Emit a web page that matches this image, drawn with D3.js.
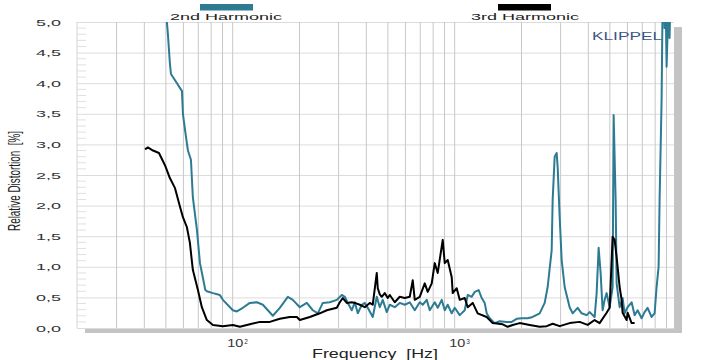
<!DOCTYPE html>
<html><head><meta charset="utf-8">
<script src="https://cdn.jsdelivr.net/npm/d3@7"></script>
<style>body{margin:0;background:#fff;overflow:hidden}text{font-family:"Liberation Sans",Arial,sans-serif;white-space:pre}</style>
</head><body><svg id="c" width="710" height="360"></svg>
<script>
// ---- data ----
const yTickValues = [0,0.5,1,1.5,2,2.5,3,3.5,4,4.5,5];
const yTickLabels = ["0,0","0,5","1,0","1,5","2,0","2,5","3,0","3,5","4,0","4,5","5,0"];
const xGridValues = [30,40,50,60,70,80,90,100,200,300,400,500,600,700,800,900,1000,2000,3000,4000,5000,6000,7000,8000,9000];
const xTickValues = [100,1000];
const xTickBases = ["10","10"];
const xTickExps = ["2","3"];
const seriesNames = ["2nd Harmonic","3rd Harmonic"];
const seriesColors = ["#2c7b93","#000000"];

// [frequency Hz, relative distortion %]
const secondHarmonic = [[50.3,5.3],[50.8,5.0],[51.3,4.82],[52.4,4.33],[53.0,4.15],[56.4,4.0],[59.4,3.87],[60.0,3.5],[61.3,3.24],[63.2,2.9],[65.2,2.75],[66.5,2.14],[69.4,1.6],[71.6,1.06],[75.7,0.62],[76.9,0.6],[81.9,0.57],[88.0,0.54],[90.8,0.46],[100.7,0.29],[105,0.27],[111.7,0.33],[120.1,0.41],[129.2,0.42],[137.5,0.38],[152.5,0.2],[163.9,0.33],[178.1,0.51],[187.6,0.46],[201.7,0.34],[216.9,0.41],[230.8,0.29],[243.1,0.24],[256,0.41],[275.2,0.42],[296,0.46],[311.8,0.54],[321.6,0.51],[331.7,0.41],[345.8,0.29],[356.7,0.42],[368,0.24],[383.6,0.38],[395.7,0.41],[408.1,0.33],[429.8,0.18],[448,0.51],[462.2,0.34],[476.7,0.46],[497,0.26],[512.7,0.38],[540,0.34],[568.7,0.41],[599,0.38],[630.8,0.42],[664.4,0.29],[699.7,0.42],[721.8,0.38],[752.3,0.46],[776.1,0.29],[817.4,0.42],[843.2,0.33],[878.9,0.46],[906.7,0.29],[935.2,0.38],[974.8,0.24],[1005.7,0.33],[1059,0.21],[1115.6,0.29],[1150.7,0.54],[1199.5,0.51],[1237.4,0.59],[1289.4,0.62],[1330.2,0.49],[1372.3,0.41],[1401,0.24],[1445.3,0.16],[1522.2,0.08],[1603.1,0.11],[1724,0.1],[1815.7,0.1],[1912,0.15],[2013.7,0.16],[2143,0.16],[2257,0.18],[2427,0.24],[2556.6,0.41],[2637,0.67],[2748.9,1.27],[2777,2.09],[2835.7,2.8],[2895,2.86],[2925,2.63],[2987,1.81],[3049,1.11],[3145,0.67],[3312,0.34],[3417,0.24],[3599,0.33],[3751,0.24],[3951,0.21],[4076,0.26],[4292,0.18],[4382,0.57],[4474,1.31],[4567,0.9],[4663,0.29],[4761,0.46],[4861,0.57],[5015,0.34],[5173,0.67],[5227,3.48],[5337,2.09],[5392,0.73],[5562,0.34],[5738,0.49],[5859,0.24],[6043,0.34],[6299,0.42],[6498,0.21],[6703,0.29],[6987,0.16],[7207,0.26],[7435,0.33],[7749,0.18],[7995,0.24],[8162,0.67],[8333,1.0],[8419,2.09],[8596,3.73],[8685,5.3],[8775,5.5],[8866,4.9],[8957,5.4],[9053,4.27],[9147,4.82],[9242,5.3],[9338,4.74],[9435,5.5]];

const thirdHarmonic = [[40.5,2.92],[41.7,2.95],[44.0,2.9],[46.8,2.86],[49.8,2.66],[52.4,2.45],[55.2,2.29],[58.2,1.98],[60.0,1.81],[62.5,1.65],[64.5,1.39],[66.5,0.95],[70.1,0.62],[73.0,0.34],[76.9,0.13],[81.9,0.05],[90.8,0.03],[100.7,0.05],[108.3,0.02],[120.1,0.06],[133.3,0.10],[147.8,0.10],[163.9,0.15],[181.9,0.18],[195.5,0.18],[201.7,0.13],[223.8,0.18],[248.2,0.24],[266.8,0.29],[296,0.33],[305.4,0.42],[315,0.49],[328.3,0.41],[345.8,0.42],[356.7,0.41],[375.7,0.38],[395.7,0.34],[416.7,0.41],[429.8,0.38],[448,0.9],[452.7,0.65],[462.2,0.55],[471.8,0.51],[486.8,0.57],[502.2,0.49],[512.7,0.54],[540,0.42],[568.7,0.51],[599,0.49],[630.8,0.51],[650.7,0.78],[664.4,0.46],[699.7,0.51],[736.9,0.73],[760.1,0.59],[792.3,0.73],[817.4,1.06],[843.2,0.9],[888,1.44],[906.7,1.06],[935.2,1.11],[974.8,0.83],[985,0.57],[1026.7,0.65],[1059,0.46],[1115.6,0.49],[1150.7,0.34],[1211.9,0.41],[1276,0.24],[1401,0.18],[1490.8,0.08],[1653.6,0.06],[1742,0.02],[1834.5,0.05],[1972,0.08],[2188,0.05],[2427,0.02],[2610,0.03],[2777,0.07],[2987,0.03],[3312,0.08],[3675,0.1],[3992,0.05],[4292,0.13],[4520,0.08],[4861,0.25],[5015,0.33],[5173,1.49],[5281,1.44],[5392,1.16],[5562,0.67],[5679,0.46],[5738,0.25],[5981,0.13],[6043,0.25],[6299,0.08],[6498,0.08]];

// ---- layout ----
const L = 77, R = 674, T = 22, B = 328;
const svg = d3.select("#c");
const x = d3.scaleLog().domain([20, 9776]).range([L, R]);
const y = d3.scaleLinear().domain([0, 5]).range([B, T]);

// shadow + plot background
svg.append("rect").attr("x", L + 8).attr("y", T + 5).attr("width", R - L).attr("height", B - T).attr("fill", "#c4c4c4");
svg.append("rect").attr("x", L).attr("y", T).attr("width", R - L).attr("height", B - T).attr("fill", "#fff");

// horizontal grid
const gy = svg.append("g").attr("transform", `translate(${L},0)`)
  .call(d3.axisLeft(y).tickValues(yTickValues).tickSize(-(R - L)).tickFormat(""));
gy.select(".domain").remove();
gy.selectAll("line").attr("stroke", "#dcdcdc");

// minor y ticks
svg.append("g").selectAll("line").data(y.ticks(50).filter(d => Math.round(d * 10) % 5 !== 0))
  .join("line").attr("x1", L).attr("x2", L + 9).attr("y1", d => y(d)).attr("y2", d => y(d))
  .attr("stroke", "#e0e0e0");

// vertical grid
const gx = svg.append("g").attr("transform", `translate(0,${B})`)
  .call(d3.axisBottom(x).tickValues(xGridValues).tickSize(-(B - T)).tickFormat(""));
gx.select(".domain").remove();
gx.selectAll("line").attr("stroke", "#c8c8c8");
svg.append("line").attr("x1", L).attr("x2", L).attr("y1", T).attr("y2", B).attr("stroke", "#d4d4d4");

// y tick labels
const ya = svg.append("g").attr("transform", `translate(${L},0)`)
  .call(d3.axisLeft(y).tickValues(yTickValues).tickSize(0).tickPadding(16).tickFormat((d, i) => yTickLabels[i]));
ya.select(".domain").remove();
ya.selectAll("text").attr("font-size", 9.5).attr("fill", "#333").attr("font-family", "Liberation Sans, Arial, sans-serif")
  .attr("textLength", 25).attr("lengthAdjust", "spacingAndGlyphs");

// x tick labels
const xt = svg.append("g").selectAll("text").data(xTickValues).join("text")
  .attr("x", d => x(d) - 5).attr("y", 347).attr("font-size", 10).attr("fill", "#333");
xt.append("tspan").text((d, i) => xTickBases[i]).attr("textLength", 16).attr("lengthAdjust", "spacingAndGlyphs");
xt.append("tspan").text((d, i) => xTickExps[i]).attr("font-size", 6.5).attr("dy", -3).attr("dx", 1);

// clip
svg.append("clipPath").attr("id", "clip").append("rect").attr("x", L).attr("y", T).attr("width", R - L).attr("height", B - T);

const line = d3.line().x(d => x(d[0])).y(d => y(d[1]));
const g = svg.append("g").attr("clip-path", "url(#clip)");
g.append("path").datum(secondHarmonic).attr("d", line).attr("fill", "none").attr("stroke", seriesColors[0]).attr("stroke-width", 2).attr("stroke-linejoin", "round");
g.append("path").datum(thirdHarmonic).attr("d", line).attr("fill", "none").attr("stroke", seriesColors[1]).attr("stroke-width", 2).attr("stroke-linejoin", "round");

// legend
const legX = [200, 498], legTextX = [170, 471], legTextW = [112, 108];
seriesNames.forEach((n, i) => {
  svg.append("rect").attr("x", legX[i]).attr("y", 4).attr("width", 53).attr("height", 6.5).attr("fill", seriesColors[i]);
  svg.append("text").attr("x", legTextX[i]).attr("y", 20).attr("font-size", 9.5).attr("fill", "#222")
    .attr("textLength", legTextW[i]).attr("lengthAdjust", "spacingAndGlyphs").text(n);
});

// KLIPPEL
svg.append("text").attr("x", 592).attr("y", 40).attr("font-size", 10).attr("fill", "#3b5587")
  .attr("textLength", 70).attr("lengthAdjust", "spacingAndGlyphs").text("KLIPPEL");

// axis titles
svg.append("text").attr("x", 312).attr("y", 358).attr("font-size", 12.5).attr("fill", "#222")
  .attr("textLength", 126).attr("lengthAdjust", "spacingAndGlyphs").text("Frequency  [Hz]");
svg.append("text").attr("transform", "translate(20,181) rotate(-90)").attr("text-anchor", "middle")
  .attr("font-size", 17).attr("fill", "#222").attr("textLength", 100).attr("lengthAdjust", "spacingAndGlyphs")
  .text("Relative Distortion  [%]");
</script></body></html>
